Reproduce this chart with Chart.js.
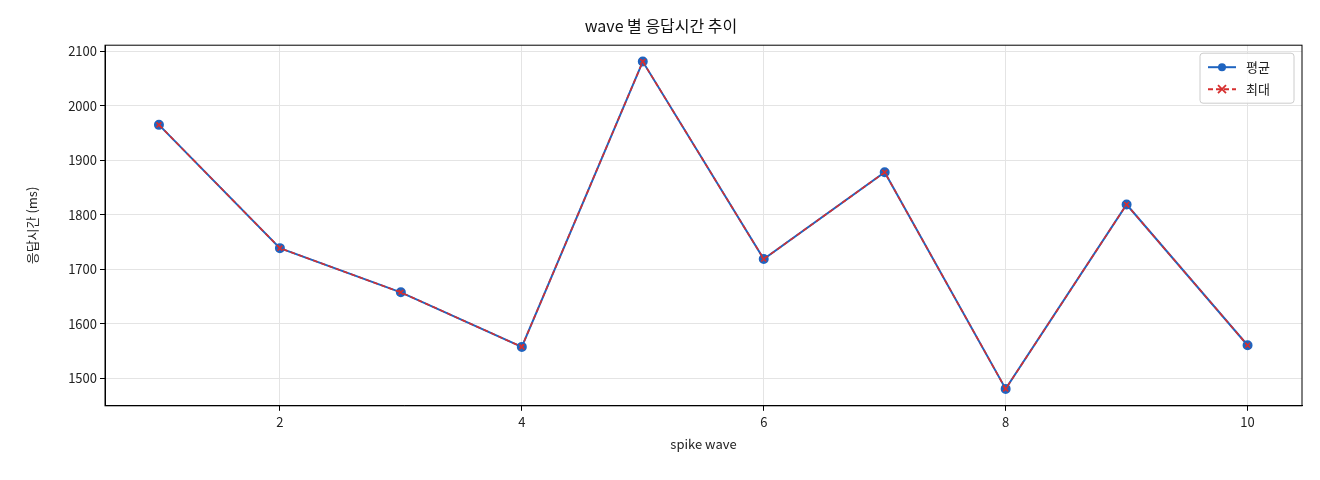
<!DOCTYPE html>
<html><head><meta charset="utf-8">
<script src="https://cdn.jsdelivr.net/npm/chart.js@4"></script>
<style>html,body{margin:0;background:#fff}#wrap{width:1320px;height:480px}</style>
</head><body><div id="wrap"><canvas id="c"></canvas></div>
<script>
const waves = [1,2,3,4,5,6,7,8,9,10];
const avgValues = [1965,1739,1658,1558,2081,1719,1878,1481,1819,1561];
const maxValues = [1965,1739,1658,1558,2081,1719,1878,1481,1819,1561];
const yTicks = [1500,1600,1700,1800,1900,2000,2100];
const seriesNames = ['평균','최대'];
const FONT = "'Noto Sans CJK KR','DejaVu Sans',sans-serif";

const legendPlugin = {
  id: 'boxLegend',
  afterDraw: chart => {
    const ctx = chart.ctx, {right, top} = chart.chartArea;
    const w = 94, h = 50, x = right - w - 8, y = top + 8;
    ctx.save();
    ctx.fillStyle = 'rgba(255,255,255,0.85)'; ctx.strokeStyle = '#ccc'; ctx.lineWidth = 1;
    ctx.beginPath(); ctx.roundRect(x, y, w, h, 3); ctx.fill(); ctx.stroke();
    ctx.font = '13px ' + FONT; ctx.textBaseline = 'middle'; ctx.fillStyle = '#222';
    [0,1].forEach(i => {
      const ly = y + 14 + i*22, ds = chart.data.datasets[i];
      ctx.strokeStyle = ds.borderColor; ctx.lineWidth = 2;
      ctx.setLineDash(i ? [5,3] : []);
      ctx.beginPath(); ctx.moveTo(x+8, ly); ctx.lineTo(x+36, ly); ctx.stroke();
      ctx.setLineDash([]);
      if (i === 0) { ctx.fillStyle = ds.borderColor; ctx.beginPath(); ctx.arc(x+22, ly, 4, 0, 7); ctx.fill(); }
      else { ctx.lineWidth = 1.8; ctx.beginPath(); ctx.moveTo(x+18,ly-4); ctx.lineTo(x+26,ly+4); ctx.moveTo(x+26,ly-4); ctx.lineTo(x+18,ly+4); ctx.stroke(); }
      ctx.fillStyle = '#222'; ctx.fillText(seriesNames[i], x+46, ly);
    });
    ctx.restore();
  }
};
const framePlugin = {
  id: 'frame',
  afterDraw: chart => {
    const ctx = chart.ctx, a = chart.chartArea;
    ctx.save(); ctx.strokeStyle = '#000'; ctx.lineWidth = 1;
    ctx.strokeRect(a.left, a.top, a.right-a.left, a.bottom-a.top); ctx.restore();
  }
};

new Chart(document.getElementById('c'), {
  type: 'line',
  data: { datasets: [
    { label: seriesNames[0], data: waves.map((w,i)=>({x:w,y:avgValues[i]})), order: 2,
      borderColor: '#1f64c0', backgroundColor: '#1f64c0', borderWidth: 2,
      pointRadius: 4, pointStyle: 'circle', tension: 0 },
    { label: seriesNames[1], data: waves.map((w,i)=>({x:w,y:maxValues[i]})), order: 1,
      borderColor: '#d62f2f', backgroundColor: '#d62f2f', borderWidth: 1.6, borderDash: [5,3],
      pointRadius: 3.5, pointStyle: 'crossRot', pointBorderWidth: 1.6, tension: 0 }
  ]},
  options: {
    responsive: true, maintainAspectRatio: false, animation: false,
    layout: { padding: { left: 20, right: 18, top: 8, bottom: 24 } },
    plugins: {
      legend: { display: false }, tooltip: { enabled: false },
      title: { display: true, text: 'wave 별 응답시간 추이', color: '#111',
        font: { family: FONT, size: 16, weight: 'normal' }, padding: { top: 8, bottom: 10 } }
    },
    scales: {
      x: { type: 'linear', min: 0.554, max: 10.45,
        afterBuildTicks: s => { s.ticks = [2,4,6,8,10].map(v=>({value:v})); },
        grid: { color: '#e4e4e4', tickColor: '#000', tickLength: 5 }, border: { color: '#000' },
        ticks: { color: '#222', font: { family: FONT, size: 13 }, callback: v => String(v) },
        title: { display: true, text: 'spike wave', color: '#222', font: { family: FONT, size: 13 } } },
      y: { min: 1450, max: 2111,
        afterBuildTicks: s => { s.ticks = yTicks.map(v=>({value:v})); },
        afterFit: s => { s.width = 85; },
        grid: { color: '#e4e4e4', tickColor: '#000', tickLength: 5 }, border: { color: '#000' },
        ticks: { color: '#222', font: { family: FONT, size: 13 }, callback: v => String(v) },
        title: { display: true, text: '응답시간 (ms)', color: '#222', font: { family: FONT, size: 13 } } }
    }
  },
  plugins: [legendPlugin, framePlugin]
});
</script></body></html>
